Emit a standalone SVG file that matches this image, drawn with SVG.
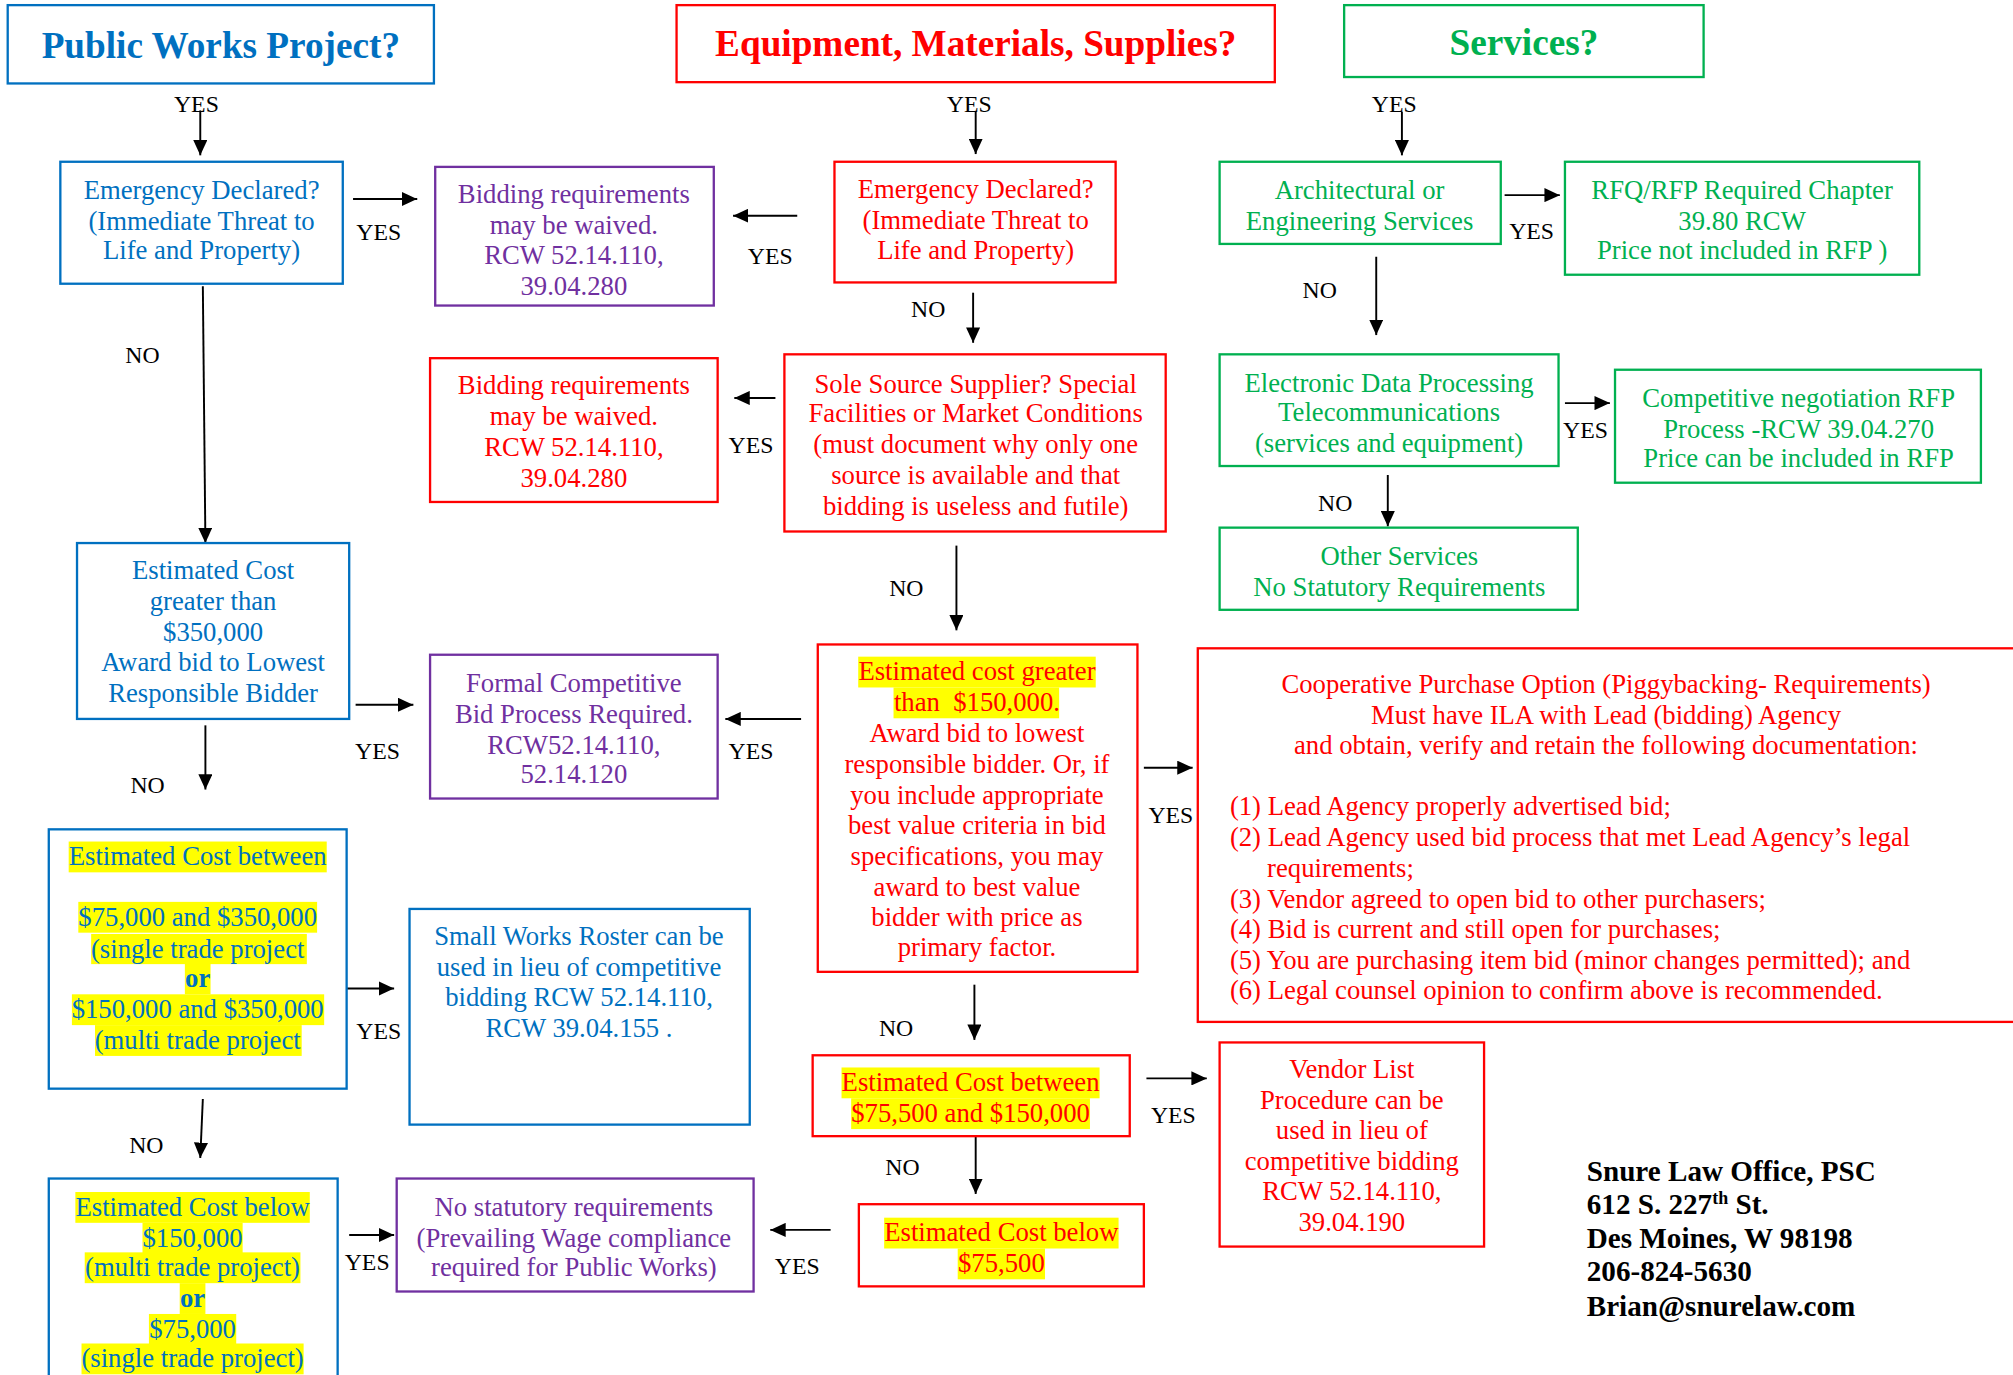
<svg xmlns="http://www.w3.org/2000/svg" width="2013" height="1375" viewBox="0 0 2013 1375">
<defs>
<style>
text{font-family:"Liberation Serif","Times New Roman",serif}
.t{font-size:20.8px;text-anchor:middle}
.l{font-size:20.8px}
.h{font-size:29px;font-weight:bold;text-anchor:middle}
.y{font-size:18.5px;text-anchor:middle;fill:#000}
.a{font-size:22.7px;font-weight:bold;fill:#000}
.bl{fill:#0070C0}.rd{fill:#FF0000}.gr{fill:#00B050}.pu{fill:#7030A0}
.kb{fill:none;stroke:#0070C0;stroke-width:1.8}
.kr{fill:none;stroke:#FF0000;stroke-width:1.8}
.kg{fill:none;stroke:#00B050;stroke-width:1.8}
.kp{fill:none;stroke:#7030A0;stroke-width:1.8}
.hl{fill:#FFFF00}
.c{stroke:#000;stroke-width:1.5;fill:none;marker-end:url(#ah)}
</style>
<marker id="ah" viewBox="0 0 12 11" refX="12" refY="5.5" markerWidth="8" markerHeight="7.33" orient="auto" markerUnits="strokeWidth">
<path d="M0,0 L12,5.5 L0,11 z" fill="#000"/>
</marker>
</defs>
<rect width="2013" height="1375" fill="#fff"/>
<g transform="scale(1.2838)">

<g id="connectors">
<line class="c" x1="156" y1="86" x2="156" y2="121"/>
<line class="c" x1="760" y1="87" x2="760" y2="120"/>
<line class="c" x1="1092" y1="87" x2="1092" y2="121"/>
<line class="c" x1="275" y1="155" x2="325" y2="155"/>
<line class="c" x1="621" y1="168" x2="571" y2="168"/>
<line class="c" x1="758" y1="228" x2="758" y2="267"/>
<line class="c" x1="604" y1="310" x2="572" y2="310"/>
<line class="c" x1="158" y1="223" x2="160" y2="423"/>
<line class="c" x1="277" y1="549" x2="322" y2="549"/>
<line class="c" x1="624" y1="560" x2="565" y2="560"/>
<line class="c" x1="160" y1="565" x2="160" y2="615"/>
<line class="c" x1="270" y1="770" x2="307" y2="770"/>
<line class="c" x1="158" y1="856" x2="156" y2="902"/>
<line class="c" x1="272" y1="962" x2="307" y2="962"/>
<line class="c" x1="647" y1="958" x2="600" y2="958"/>
<line class="c" x1="745" y1="425" x2="745" y2="491"/>
<line class="c" x1="891" y1="598" x2="929" y2="598"/>
<line class="c" x1="759" y1="767" x2="759" y2="810"/>
<line class="c" x1="893" y1="840" x2="940" y2="840"/>
<line class="c" x1="760" y1="885" x2="760" y2="930"/>
<line class="c" x1="1172" y1="152" x2="1215" y2="152"/>
<line class="c" x1="1072" y1="200" x2="1072" y2="261"/>
<line class="c" x1="1219" y1="314" x2="1254" y2="314"/>
<line class="c" x1="1081" y1="370" x2="1081" y2="410"/>
<text class="y" x="153" y="87">YES</text>
<text class="y" x="755" y="87">YES</text>
<text class="y" x="1086" y="87">YES</text>
<text class="y" x="295" y="187">YES</text>
<text class="y" x="600" y="206">YES</text>
<text class="y" x="723" y="247">NO</text>
<text class="y" x="585" y="353">YES</text>
<text class="y" x="111" y="283">NO</text>
<text class="y" x="294" y="591">YES</text>
<text class="y" x="585" y="591">YES</text>
<text class="y" x="115" y="618">NO</text>
<text class="y" x="295" y="809">YES</text>
<text class="y" x="114" y="898">NO</text>
<text class="y" x="286" y="989">YES</text>
<text class="y" x="621" y="992">YES</text>
<text class="y" x="706" y="464">NO</text>
<text class="y" x="912" y="641">YES</text>
<text class="y" x="698" y="807">NO</text>
<text class="y" x="914" y="875">YES</text>
<text class="y" x="703" y="915">NO</text>
<text class="y" x="1193" y="186">YES</text>
<text class="y" x="1028" y="232">NO</text>
<text class="y" x="1235" y="341">YES</text>
<text class="y" x="1040" y="398">NO</text>
</g>

<g id="title-public-works">
<rect class="kb" x="6" y="4" width="332" height="61"/>
<text class="h bl" x="172" y="45">Public Works Project?</text>
</g>
<g id="title-equipment">
<rect class="kr" x="527" y="4" width="466" height="60"/>
<text class="h rd" x="760" y="44">Equipment, Materials, Supplies?</text>
</g>
<g id="title-services">
<rect class="kg" x="1047" y="4" width="280" height="56"/>
<text class="h gr" x="1187" y="43">Services?</text>
</g>

<g id="pw-emergency">
<rect class="kb" x="47" y="126" width="220" height="95"/>
<text class="t bl" x="157" y="155">Emergency Declared?</text>
<text class="t bl" x="157" y="179">(Immediate Threat to</text>
<text class="t bl" x="157" y="202">Life and Property)</text>
</g>
<g id="pw-bidding-waived">
<rect class="kp" x="339" y="130" width="217" height="108"/>
<text class="t pu" x="447" y="158">Bidding requirements</text>
<text class="t pu" x="447" y="182">may be waived.</text>
<text class="t pu" x="447" y="206">RCW 52.14.110,</text>
<text class="t pu" x="447" y="230">39.04.280</text>
</g>
<g id="em-emergency">
<rect class="kr" x="650" y="126" width="219" height="94"/>
<text class="t rd" x="760" y="154">Emergency Declared?</text>
<text class="t rd" x="760" y="178">(Immediate Threat to</text>
<text class="t rd" x="760" y="202">Life and Property)</text>
</g>
<g id="em-sole-source">
<rect class="kr" x="611" y="276" width="297" height="138"/>
<text class="t rd" x="760" y="306">Sole Source Supplier? Special</text>
<text class="t rd" x="760" y="329">Facilities or Market Conditions</text>
<text class="t rd" x="760" y="353">(must document why only one</text>
<text class="t rd" x="760" y="377">source is available and that</text>
<text class="t rd" x="760" y="401">bidding is useless and futile)</text>
</g>
<g id="em-bidding-waived">
<rect class="kr" x="335" y="279" width="224" height="112"/>
<text class="t rd" x="447" y="307">Bidding requirements</text>
<text class="t rd" x="447" y="331">may be waived.</text>
<text class="t rd" x="447" y="355">RCW 52.14.110,</text>
<text class="t rd" x="447" y="379">39.04.280</text>
</g>
<g id="pw-over-350k">
<rect class="kb" x="60" y="423" width="212" height="137"/>
<text class="t bl" x="166" y="451">Estimated Cost</text>
<text class="t bl" x="166" y="475">greater than</text>
<text class="t bl" x="166" y="499">$350,000</text>
<text class="t bl" x="166" y="523">Award bid to Lowest</text>
<text class="t bl" x="166" y="547">Responsible Bidder</text>
</g>
<g id="pw-formal-bid">
<rect class="kp" x="335" y="510" width="224" height="112"/>
<text class="t pu" x="447" y="539">Formal Competitive</text>
<text class="t pu" x="447" y="563">Bid Process Required.</text>
<text class="t pu" x="447" y="587">RCW52.14.110,</text>
<text class="t pu" x="447" y="610">52.14.120</text>
</g>
<g id="pw-between">
<rect class="kb" x="38" y="646" width="232" height="202"/>
<rect class="hl" x="53.5" y="655.5" width="201" height="24"/>
<rect class="hl" x="61" y="702.5" width="186" height="24"/>
<rect class="hl" x="71" y="727.5" width="168" height="23.5"/>
<rect class="hl" x="144" y="750.5" width="20" height="24"/>
<rect class="hl" x="56" y="774.5" width="196.5" height="24"/>
<rect class="hl" x="74" y="798.5" width="161" height="24"/>
<text class="t bl" x="154" y="674">Estimated Cost between</text>
<text class="t bl" x="154" y="721">$75,000 and $350,000</text>
<text class="t bl" x="154" y="746">(single trade project</text>
<text class="t bl" x="154" y="769" font-weight="bold">or</text>
<text class="t bl" x="154" y="793">$150,000 and $350,000</text>
<text class="t bl" x="154" y="817">(multi trade project</text>
</g>
<g id="pw-small-works">
<rect class="kb" x="319" y="708" width="265" height="168"/>
<text class="t bl" x="451" y="736">Small Works Roster can be</text>
<text class="t bl" x="451" y="760">used in lieu of competitive</text>
<text class="t bl" x="451" y="784">bidding RCW 52.14.110,</text>
<text class="t bl" x="451" y="808">RCW 39.04.155 .</text>
</g>
<g id="pw-below">
<rect class="kb" x="38" y="918" width="225" height="170"/>
<rect class="hl" x="58.7" y="928.5" width="182.6" height="24"/>
<rect class="hl" x="111" y="952.5" width="78" height="23.5"/>
<rect class="hl" x="66" y="975.5" width="168" height="24"/>
<rect class="hl" x="140" y="999.5" width="20" height="24"/>
<rect class="hl" x="116" y="1023.5" width="68" height="23.5"/>
<rect class="hl" x="63.5" y="1046.5" width="173" height="24"/>
<text class="t bl" x="150" y="947">Estimated Cost below</text>
<text class="t bl" x="150" y="971">$150,000</text>
<text class="t bl" x="150" y="994">(multi trade project)</text>
<text class="t bl" x="150" y="1018" font-weight="bold">or</text>
<text class="t bl" x="150" y="1042">$75,000</text>
<text class="t bl" x="150" y="1065">(single trade project)</text>
</g>
<g id="pw-no-statutory">
<rect class="kp" x="309" y="918" width="278" height="88"/>
<text class="t pu" x="447" y="947">No statutory requirements</text>
<text class="t pu" x="447" y="971">(Prevailing Wage compliance</text>
<text class="t pu" x="447" y="994">required for Public Works)</text>
</g>
<g id="em-over-150k">
<rect class="kr" x="637" y="502" width="249" height="255"/>
<rect class="hl" x="668.5" y="511.5" width="185" height="24"/>
<rect class="hl" x="696" y="535.5" width="129" height="24"/>
<text class="t rd" x="761" y="530">Estimated cost greater</text>
<text class="t rd" x="761" y="554">than &#160;$150,000.</text>
<text class="t rd" x="761" y="578">Award bid to lowest</text>
<text class="t rd" x="761" y="602">responsible bidder. Or, if</text>
<text class="t rd" x="761" y="626">you include appropriate</text>
<text class="t rd" x="761" y="650">best value criteria in bid</text>
<text class="t rd" x="761" y="674">specifications, you may</text>
<text class="t rd" x="761" y="698">award to best value</text>
<text class="t rd" x="761" y="721">bidder with price as</text>
<text class="t rd" x="761" y="745">primary factor.</text>
</g>
<g id="em-cooperative">
<rect class="kr" x="933" y="505" width="640" height="291"/>
<text class="t rd" x="1251" y="540">Cooperative Purchase Option (Piggybacking- Requirements)</text>
<text class="t rd" x="1251" y="564">Must have ILA with Lead (bidding) Agency</text>
<text class="t rd" x="1251" y="587">and obtain, verify and retain the following documentation:</text>
<text class="l rd" x="958" y="635">(1) Lead Agency properly advertised bid;</text>
<text class="l rd" x="958" y="659">(2) Lead Agency used bid process that met Lead Agency’s legal</text>
<text class="l rd" x="987" y="683">requirements;</text>
<text class="l rd" x="958" y="707">(3) Vendor agreed to open bid to other purchasers;</text>
<text class="l rd" x="958" y="731">(4) Bid is current and still open for purchases;</text>
<text class="l rd" x="958" y="755">(5) You are purchasing item bid (minor changes permitted); and</text>
<text class="l rd" x="958" y="778">(6) Legal counsel opinion to confirm above is recommended.</text>
</g>
<g id="em-between">
<rect class="kr" x="633" y="822" width="247" height="63"/>
<rect class="hl" x="655.5" y="831.5" width="201" height="24"/>
<rect class="hl" x="663" y="855.5" width="186" height="24"/>
<text class="t rd" x="756" y="850">Estimated Cost between</text>
<text class="t rd" x="756" y="874">$75,500 and $150,000</text>
</g>
<g id="em-vendor-list">
<rect class="kr" x="950" y="812" width="206" height="159"/>
<text class="t rd" x="1053" y="840">Vendor List</text>
<text class="t rd" x="1053" y="864">Procedure can be</text>
<text class="t rd" x="1053" y="887">used in lieu of</text>
<text class="t rd" x="1053" y="911">competitive bidding</text>
<text class="t rd" x="1053" y="935">RCW 52.14.110,</text>
<text class="t rd" x="1053" y="959">39.04.190</text>
</g>
<g id="em-below">
<rect class="kr" x="669" y="938" width="222" height="64"/>
<rect class="hl" x="688.7" y="948.5" width="182.6" height="24"/>
<rect class="hl" x="746" y="972.5" width="68" height="24"/>
<text class="t rd" x="780" y="967">Estimated Cost below</text>
<text class="t rd" x="780" y="991">$75,500</text>
</g>
<g id="sv-architectural">
<rect class="kg" x="950" y="126" width="219" height="64"/>
<text class="t gr" x="1059" y="155">Architectural or</text>
<text class="t gr" x="1059" y="179">Engineering Services</text>
</g>
<g id="sv-rfq">
<rect class="kg" x="1219" y="126" width="276" height="88"/>
<text class="t gr" x="1357" y="155">RFQ/RFP Required Chapter</text>
<text class="t gr" x="1357" y="179">39.80 RCW</text>
<text class="t gr" x="1357" y="202">Price not included in RFP )</text>
</g>
<g id="sv-edp">
<rect class="kg" x="950" y="276" width="264" height="87"/>
<text class="t gr" x="1082" y="305">Electronic Data Processing</text>
<text class="t gr" x="1082" y="328">Telecommunications</text>
<text class="t gr" x="1082" y="352">(services and equipment)</text>
</g>
<g id="sv-competitive">
<rect class="kg" x="1258" y="288" width="285" height="88"/>
<text class="t gr" x="1401" y="317">Competitive negotiation RFP</text>
<text class="t gr" x="1401" y="341">Process -RCW 39.04.270</text>
<text class="t gr" x="1401" y="364">Price can be included in RFP</text>
</g>
<g id="sv-other">
<rect class="kg" x="950" y="411" width="279" height="64"/>
<text class="t gr" x="1090" y="440">Other Services</text>
<text class="t gr" x="1090" y="464">No Statutory Requirements</text>
</g>
<g id="address">
<text class="a" x="1236" y="920">Snure Law Office, PSC</text>
<text class="a" x="1236" y="946">612 S. 227<tspan font-size="14" dy="-8">th</tspan><tspan dy="8"> St.</tspan></text>
<text class="a" x="1236" y="972">Des Moines, W 98198</text>
<text class="a" x="1236" y="998">206-824-5630</text>
<text class="a" x="1236" y="1025">Brian@snurelaw.com</text>
</g>
</g>
</svg>
